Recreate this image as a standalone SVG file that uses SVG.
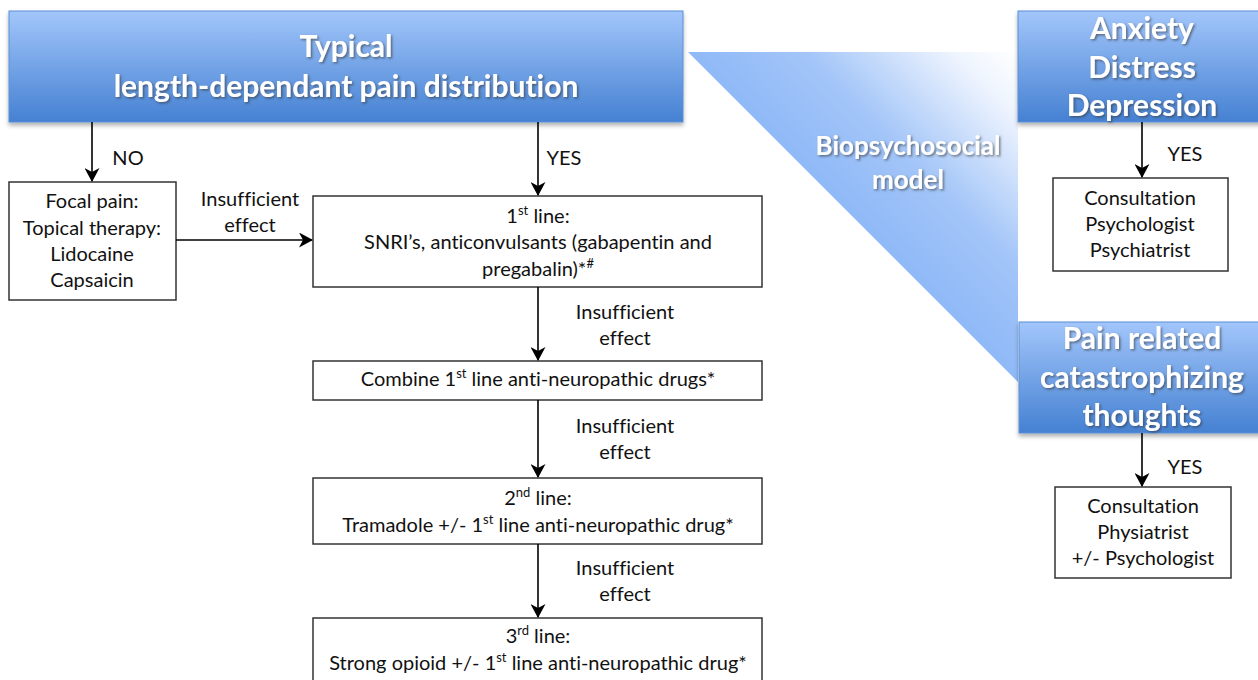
<svg xmlns="http://www.w3.org/2000/svg" width="1258" height="680" viewBox="0 0 1258 680">
<defs>
<linearGradient id="blue" x1="0" y1="0" x2="0" y2="1">
<stop offset="0" stop-color="#a2c6fb"/>
<stop offset="1" stop-color="#4581d2"/>
</linearGradient>
<linearGradient id="tri" gradientUnits="userSpaceOnUse" x1="853" y1="217" x2="1018" y2="52">
<stop offset="0" stop-color="#8fb9f7"/>
<stop offset="0.35" stop-color="#a3c5f8"/>
<stop offset="0.8" stop-color="#eef4fe"/>
<stop offset="1" stop-color="#ffffff"/>
</linearGradient>
<filter id="tsh" x="-10%" y="-20%" width="130%" height="150%">
<feDropShadow dx="1.5" dy="1.5" stdDeviation="1" flood-color="#333" flood-opacity="0.6"/>
</filter>
<filter id="bsh" x="-5%" y="-10%" width="110%" height="125%">
<feDropShadow dx="0" dy="3" stdDeviation="2" flood-color="#000" flood-opacity="0.3"/>
</filter>
<marker id="ah" markerWidth="14" markerHeight="15" refX="13" refY="7.5" orient="auto" markerUnits="userSpaceOnUse">
<path d="M0,0 L14,7.5 L0,15 L4,7.5 z" fill="#000"/>
</marker>
<style>
text{font-variant-ligatures:none}
.bb{fill:url(#blue);stroke:#5b8fd6;stroke-width:1;filter:url(#bsh)}
.bt{font-family:Lato,"Open Sans",sans-serif;font-weight:bold;fill:#fff;text-anchor:middle;filter:url(#tsh)}
.wb{fill:#fff;stroke:#333;stroke-width:1.5}
.t{font-family:Lato,"Open Sans",sans-serif;font-size:20px;fill:#111;text-anchor:middle}
.sup{font-size:13px}
.c{stroke:#000;stroke-width:1.6;fill:none;marker-end:url(#ah)}
</style>
</defs>
<rect width="1258" height="680" fill="#fff"/>

<g id="biopsychosocial">
<polygon points="688,52 1018,52 1018,382" fill="url(#tri)"/>
<text class="bt" x="908" y="155" font-size="26">Biopsychosocial</text>
<text class="bt" x="908" y="189" font-size="26">model</text>
</g>

<g id="typical">
<rect class="bb" x="9" y="11" width="674" height="111"/>
<text class="bt" x="346" y="57" font-size="30">Typical</text>
<text class="bt" x="346" y="97" font-size="30">length-dependant pain distribution</text>
</g>

<g id="anxiety">
<rect class="bb" x="1018" y="11" width="250" height="111"/>
<text class="bt" x="1142" y="39" font-size="30">Anxiety</text>
<text class="bt" x="1142" y="78" font-size="30">Distress</text>
<text class="bt" x="1142" y="116" font-size="30">Depression</text>
</g>

<g id="painrelated">
<rect class="bb" x="1019" y="322" width="250" height="111"/>
<text class="bt" x="1142" y="349" font-size="30">Pain related</text>
<text class="bt" x="1142" y="388" font-size="30">catastrophizing</text>
<text class="bt" x="1142" y="426" font-size="30">thoughts</text>
</g>

<g id="focal">
<rect class="wb" x="9" y="182" width="167" height="118"/>
<text class="t" x="92" y="208">Focal pain:</text>
<text class="t" x="92" y="235">Topical therapy:</text>
<text class="t" x="92" y="261">Lidocaine</text>
<text class="t" x="92" y="287">Capsaicin</text>
</g>

<g id="firstline">
<rect class="wb" x="313" y="196" width="449" height="91"/>
<text class="t" x="538" y="223">1<tspan class="sup" baseline-shift="super">st</tspan>  line:</text>
<text class="t" x="538" y="249">SNRI’s, anticonvulsants (gabapentin and</text>
<text class="t" x="538" y="276">pregabalin)*<tspan class="sup" baseline-shift="super">#</tspan></text>
</g>

<g id="combine">
<rect class="wb" x="313" y="361" width="449" height="39"/>
<text class="t" x="538" y="386">Combine 1<tspan class="sup" baseline-shift="super">st</tspan> line anti-neuropathic drugs*</text>
</g>

<g id="secondline">
<rect class="wb" x="313" y="478" width="449" height="66"/>
<text class="t" x="538" y="505">2<tspan class="sup" baseline-shift="super">nd</tspan> line:</text>
<text class="t" x="538" y="532">Tramadole +/- 1<tspan class="sup" baseline-shift="super">st</tspan> line anti-neuropathic drug*</text>
</g>

<g id="thirdline">
<rect class="wb" x="313" y="618" width="449" height="80"/>
<text class="t" x="538" y="643">3<tspan class="sup" baseline-shift="super">rd</tspan> line:</text>
<text class="t" x="538" y="670">Strong opioid +/- 1<tspan class="sup" baseline-shift="super">st</tspan> line anti-neuropathic drug*</text>
</g>

<g id="consult1">
<rect class="wb" x="1053" y="178" width="175" height="93"/>
<text class="t" x="1140" y="205">Consultation</text>
<text class="t" x="1140" y="231">Psychologist</text>
<text class="t" x="1140" y="257">Psychiatrist</text>
</g>

<g id="consult2">
<rect class="wb" x="1055" y="487" width="176" height="91"/>
<text class="t" x="1143" y="513">Consultation</text>
<text class="t" x="1143" y="539">Physiatrist</text>
<text class="t" x="1143" y="565">+/- Psychologist</text>
</g>

<g id="connectors">
<line class="c" x1="92" y1="122" x2="92" y2="181"/>
<text class="t" x="128" y="165">NO</text>
<line class="c" x1="538" y1="122" x2="538" y2="195"/>
<text class="t" x="564" y="165">YES</text>
<line class="c" x1="176" y1="240" x2="312" y2="240"/>
<text class="t" x="250" y="206">Insufficient</text>
<text class="t" x="250" y="232">effect</text>
<line class="c" x1="538" y1="287" x2="538" y2="360"/>
<text class="t" x="625" y="319">Insufficient</text>
<text class="t" x="625" y="345">effect</text>
<line class="c" x1="538" y1="400" x2="538" y2="477"/>
<text class="t" x="625" y="433">Insufficient</text>
<text class="t" x="625" y="459">effect</text>
<line class="c" x1="538" y1="544" x2="538" y2="617"/>
<text class="t" x="625" y="575">Insufficient</text>
<text class="t" x="625" y="601">effect</text>
<line class="c" x1="1142" y1="122" x2="1142" y2="177"/>
<text class="t" x="1185" y="161">YES</text>
<line class="c" x1="1142" y1="433" x2="1142" y2="486"/>
<text class="t" x="1185" y="474">YES</text>
</g>
</svg>
